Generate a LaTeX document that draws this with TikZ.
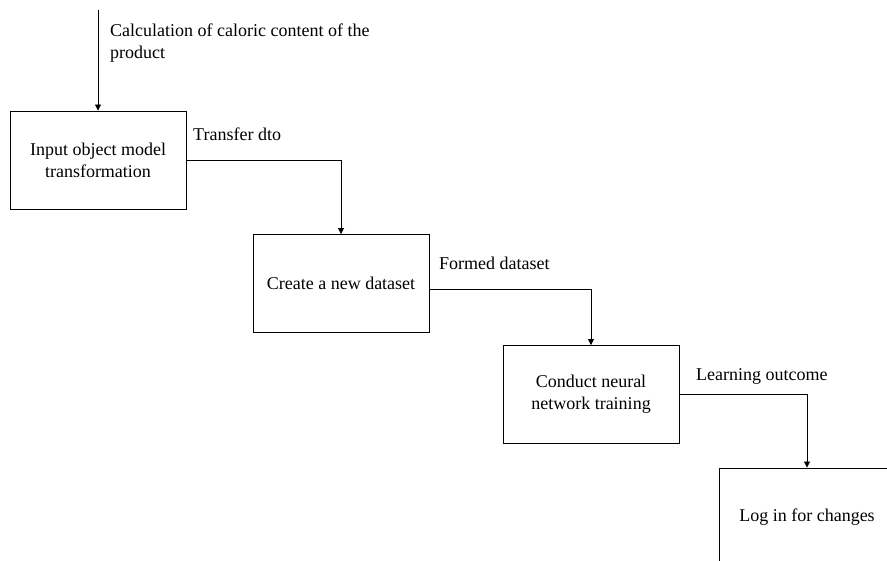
\documentclass[tikz,border=0pt]{standalone}
\usepackage{fontspec}
\setmainfont{Liberation Serif}
\usetikzlibrary{arrows.meta}
\begin{document}
\begin{tikzpicture}[x=1pt,y=-1pt,
  every node/.style={font=\fontsize{18}{22}\selectfont, inner sep=0pt},
  stepbox/.style={draw, line width=0.9pt, minimum width=176pt, minimum height=98pt, align=center},
  flow/.style={draw, line width=0.8pt, -{Triangle[length=6pt,width=6pt]}},
  lbl/.style={anchor=base west, align=left}
]
\useasboundingbox (0,0) rectangle (887,561);
\clip (0,0) rectangle (887,561);

% process boxes
\node[stepbox] (b1) at (98,160) {Input object model\\transformation};
\node[stepbox] (b2) at (341,283.5) {Create a new dataset};
\node[stepbox] (b3) at (591,394.5) {Conduct neural\\network training};
\node[stepbox] (b4) at (807,517) {Log in for changes};

% incoming data
\coordinate (src) at (98,10);
\draw[flow] (src) -- (b1.north);
\node[lbl] (t0) at (110,59) {Calculation of caloric content of the\\product};

% flow between steps
\draw[flow] (b1.east) -| (b2.north);
\node[lbl] (t1) at (193,141) {Transfer dto};

\draw[flow] ([yshift=-6pt]b2.east) -| (b3.north);
\node[lbl] (t2) at (439,270) {Formed dataset};

\draw[flow] (b3.east) -| (b4.north);
\node[lbl] (t3) at (696,381) {Learning outcome};
\end{tikzpicture}
\end{document}
